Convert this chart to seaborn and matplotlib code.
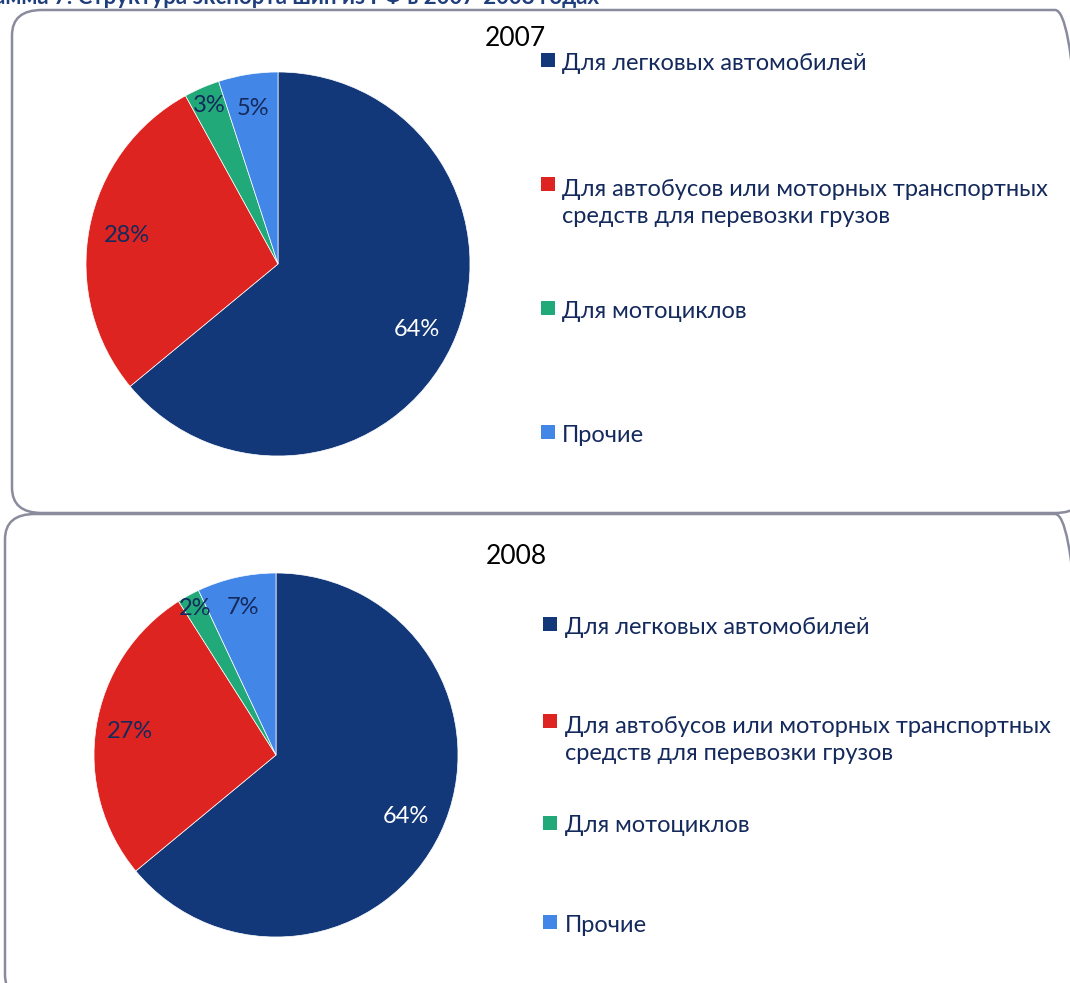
import numpy as np
import matplotlib
matplotlib.use("Agg")
import matplotlib.pyplot as plt
import seaborn as sns
from matplotlib.patches import FancyBboxPatch, Rectangle

# данные
categories = ["Для легковых автомобилей",
              "Для автобусов или моторных транспортных\nсредств для перевозки грузов",
              "Для мотоциклов",
              "Прочие"]
share_2007 = [64, 28, 3, 5]
share_2008 = [64, 27, 2, 7]
years = ["2007", "2008"]
title_text = "Диаграмма 7. Структура экспорта шин из РФ в 2007-2008 годах"

sns.set_theme(style="white")
plt.rcParams['font.family'] = ['Lato', 'DejaVu Sans']

colors = ["#12387A", "#DE2420", "#22A97A", "#4287E8"]
navy = "#14295C"
W, H = 1070, 983

fig = plt.figure(figsize=(W / 100, H / 100), dpi=100)

def fx(px):
    return px / W

def fy(py):
    return 1 - py / H

# рамки панелей
for (x0, y0, x1, y1) in [(12, 10, 1085, 513), (5, 514, 1085, 1000)]:
    box = FancyBboxPatch((fx(x0), fy(y1)), fx(x1 - x0), (y1 - y0) / H,
                         boxstyle="round,pad=0,rounding_size=0.028",
                         transform=fig.transFigure, facecolor="none",
                         edgecolor="#8A8C9E", linewidth=1.8, zorder=0,
                         mutation_aspect=H / W)
    fig.patches.append(box)

# заголовок (обрезан сверху, как на исходнике)
fig.text(fx(-70), fy(-3), title_text, fontsize=16, fontweight="bold",
         color="#1F3E7C", ha="left", va="center")

panels = [
    dict(vals=share_2007, year=years[0], cx=278, cy=264, r=192,
         year_xy=(515, 38), sq_x=541, txt_x=562,
         rows=[63, 203, 311, 435], dists=[0.8, 0.8, 0.9, 0.82]),
    dict(vals=share_2008, year=years[1], cx=276, cy=755, r=182,
         year_xy=(516, 556), sq_x=543, txt_x=565,
         rows=[627, 740, 826, 925], dists=[0.79, 0.81, 0.92, 0.83]),
]

for p in panels:
    ax = fig.add_axes([fx(p["cx"] - p["r"]), fy(p["cy"] + p["r"]),
                       fx(2 * p["r"]), 2 * p["r"] / H])
    wedges, _, autotexts = ax.pie(p["vals"], colors=colors, startangle=90,
                                  counterclock=False, autopct="%1.0f%%",
                                  wedgeprops=dict(edgecolor="white", linewidth=0.5),
                                  textprops=dict(fontsize=17, color=navy))
    ax.set_xlim(-1, 1)
    ax.set_ylim(-1, 1)
    ax.axis("off")
    for w, t, d in zip(wedges, autotexts, p["dists"]):
        ang = np.deg2rad((w.theta1 + w.theta2) / 2)
        t.set_position((d * np.cos(ang), d * np.sin(ang)))
    autotexts[0].set_color("white")

    fig.text(fx(p["year_xy"][0]), fy(p["year_xy"][1]), p["year"],
             fontsize=19, color="black", ha="center", va="center")

    # легенда
    for cat, col, row in zip(categories, colors, p["rows"]):
        first_line = row if "\n" not in cat else row - 16
        sq = 14
        fig.patches.append(Rectangle((fx(p["sq_x"]), fy(first_line - 3 + sq / 2)),
                                     fx(sq), sq / H, transform=fig.transFigure,
                                     facecolor=col, edgecolor="none"))
        fig.text(fx(p["txt_x"]), fy(row), cat, fontsize=17, color=navy,
                 ha="left", va="center", linespacing=1.4)

fig.savefig("out.png", dpi=100)
